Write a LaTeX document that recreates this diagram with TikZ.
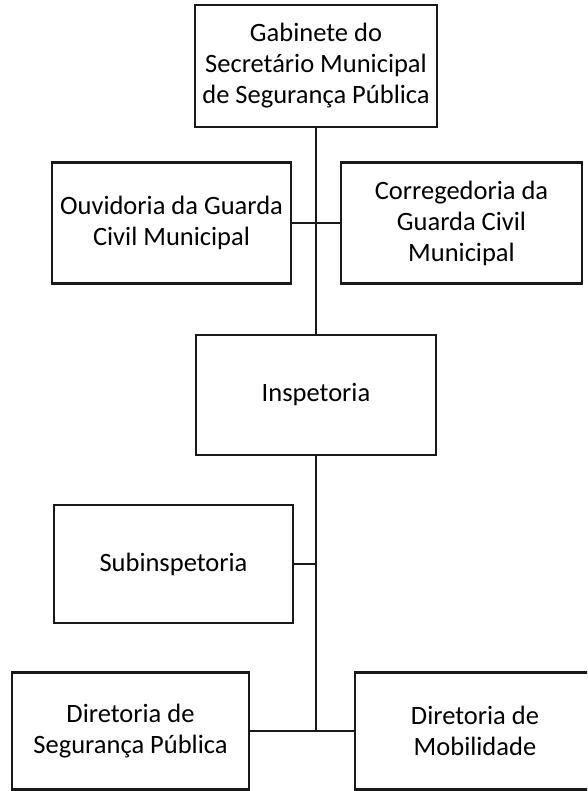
\documentclass[tikz,border=0pt]{standalone}
\usepackage{fontspec}
\setmainfont{Carlito}
\begin{document}
\begin{tikzpicture}[x=1pt,y=-1pt,
  orgbox/.style={draw=black!90, line width=2.5pt, fill=white, inner sep=0pt,
    align=center, text=black, font=\fontsize{26.5}{31}\selectfont},
  link/.style={draw=black!90, line width=2.3pt}]
\useasboundingbox (0,0) rectangle (587,791);
\clip (0,0) rectangle (587,791);
\fill[white] (0,0) rectangle (587,791);
\node[orgbox, minimum width=242pt, minimum height=122pt] (gab) at (316,66)
  {Gabinete do\\Secretário Municipal\\de Segurança Pública};
\node[orgbox, minimum width=239pt, minimum height=121pt] (ouv) at (171.5,223)
  {Ouvidoria da Guarda\\Civil Municipal};
\node[orgbox, minimum width=241pt, minimum height=121pt] (cor) at (461.5,223)
  {Corregedoria da\\Guarda Civil\\Municipal};
\node[orgbox, minimum width=240pt, minimum height=120pt] (insp) at (316,395)
  {Inspetoria};
\node[orgbox, minimum width=239pt, minimum height=118pt] (sub) at (173.5,564)
  {Subinspetoria};
\node[orgbox, minimum width=237pt, minimum height=117pt] (dsp) at (130.5,731)
  {Diretoria de\\Segurança Pública};
\node[orgbox, minimum width=240pt, minimum height=117pt] (mob) at (475,731)
  {Diretoria de\\Mobilidade};
\coordinate (jb) at (316,731);
\draw[link] (gab.south) -- (insp.north);
\draw[link] (ouv.east) -- (cor.west);
\draw[link] (insp.south) -- (jb);
\draw[link] (sub.east) -- (sub.east -| insp.south);
\draw[link] (dsp.east) -- (mob.west);
\end{tikzpicture}
\end{document}
